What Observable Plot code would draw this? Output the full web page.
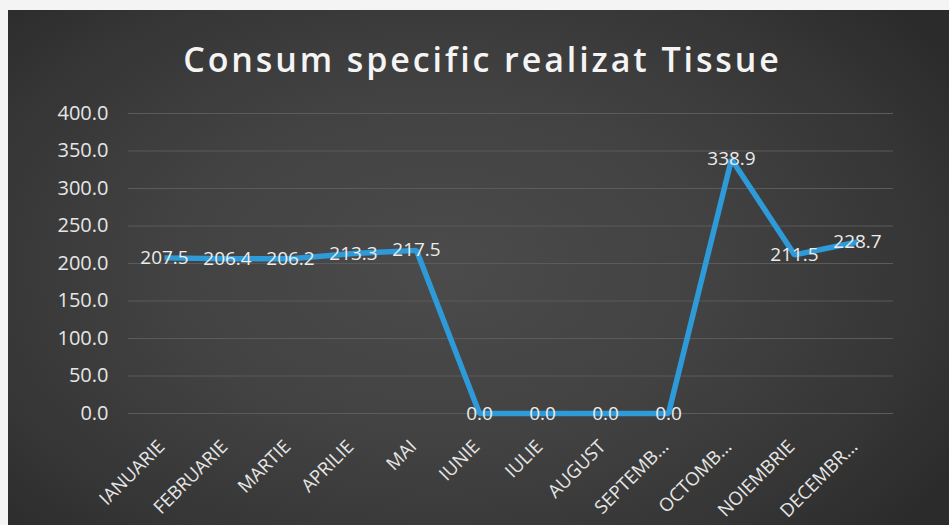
<!DOCTYPE html>
<html>
<head>
<meta charset="utf-8">
<script src="https://cdn.jsdelivr.net/npm/d3@7"></script>
<script src="https://cdn.jsdelivr.net/npm/@observablehq/plot@0.6"></script>
<style>
  html, body { margin: 0; padding: 0; background: #f4f4f4; width: 949px; height: 525px; overflow: hidden; }
  #frame {
    position: absolute; left: 8px; top: 10px; width: 941px; height: 515px;
    background: radial-gradient(ellipse 65% 75% at 46% 50%, #4b4b4b 0%, #424242 45%, #353535 80%, #2b2b2b 100%);
    font-family: "Open Sans", sans-serif;
  }
  #title {
    height: 85px; line-height: 98px; text-align: center; color: #f4f4f4;
    font-size: 34px; font-weight: 600; letter-spacing: 2.9px; padding-left: 8px;
  }
  svg { display: block; }
</style>
</head>
<body>
<div id="frame">
  <div id="title">Consum specific realizat Tissue</div>
  <div id="chart"></div>
</div>
<script>
const months = ["IANUARIE","FEBRUARIE","MARTIE","APRILIE","MAI","IUNIE","IULIE","AUGUST","SEPTEMB...","OCTOMB...","NOIEMBRIE","DECEMBR..."];
const values = [207.5, 206.4, 206.2, 213.3, 217.5, 0.0, 0.0, 0.0, 0.0, 338.9, 211.5, 228.7];
const yTicks = [0, 50, 100, 150, 200, 250, 300, 350, 400];

const data = months.map((m, i) => ({month: m, value: values[i]}));
const fmt = d3.format(".1f");

const chart = Plot.plot({
  width: 941,
  height: 430,
  marginTop: 18,
  marginBottom: 112,
  marginLeft: 120,
  marginRight: 56,
  style: {background: "transparent", color: "#e6e6e6", fontFamily: "Open Sans, sans-serif", fontSize: "19px"},
  x: {type: "point", domain: months, padding: 0.5, label: null},
  y: {domain: [0, 400], label: null},
  marks: [
    Plot.ruleY(yTicks, {stroke: "#5b5b5b", strokeWidth: 1}),
    Plot.axisY({ticks: yTicks, tickFormat: fmt, tickSize: 0, tickPadding: 20, fontSize: 20, fill: "#e6e6e6", label: null}),
    Plot.axisX({tickRotate: -45, tickSize: 0, tickPadding: 22, dy: 8, dx: -3, fontSize: 18.5, fill: "#e6e6e6", label: null}),
    Plot.line(data, {x: "month", y: "value", stroke: "#2e9ad8", strokeWidth: 5.5, strokeLinejoin: "miter", strokeLinecap: "butt"}),
    Plot.text(data, {x: "month", y: "value", text: d => fmt(d.value), fill: "#ececec", fontSize: 19})
  ]
});
document.getElementById("chart").appendChild(chart);
</script>
</body>
</html>
